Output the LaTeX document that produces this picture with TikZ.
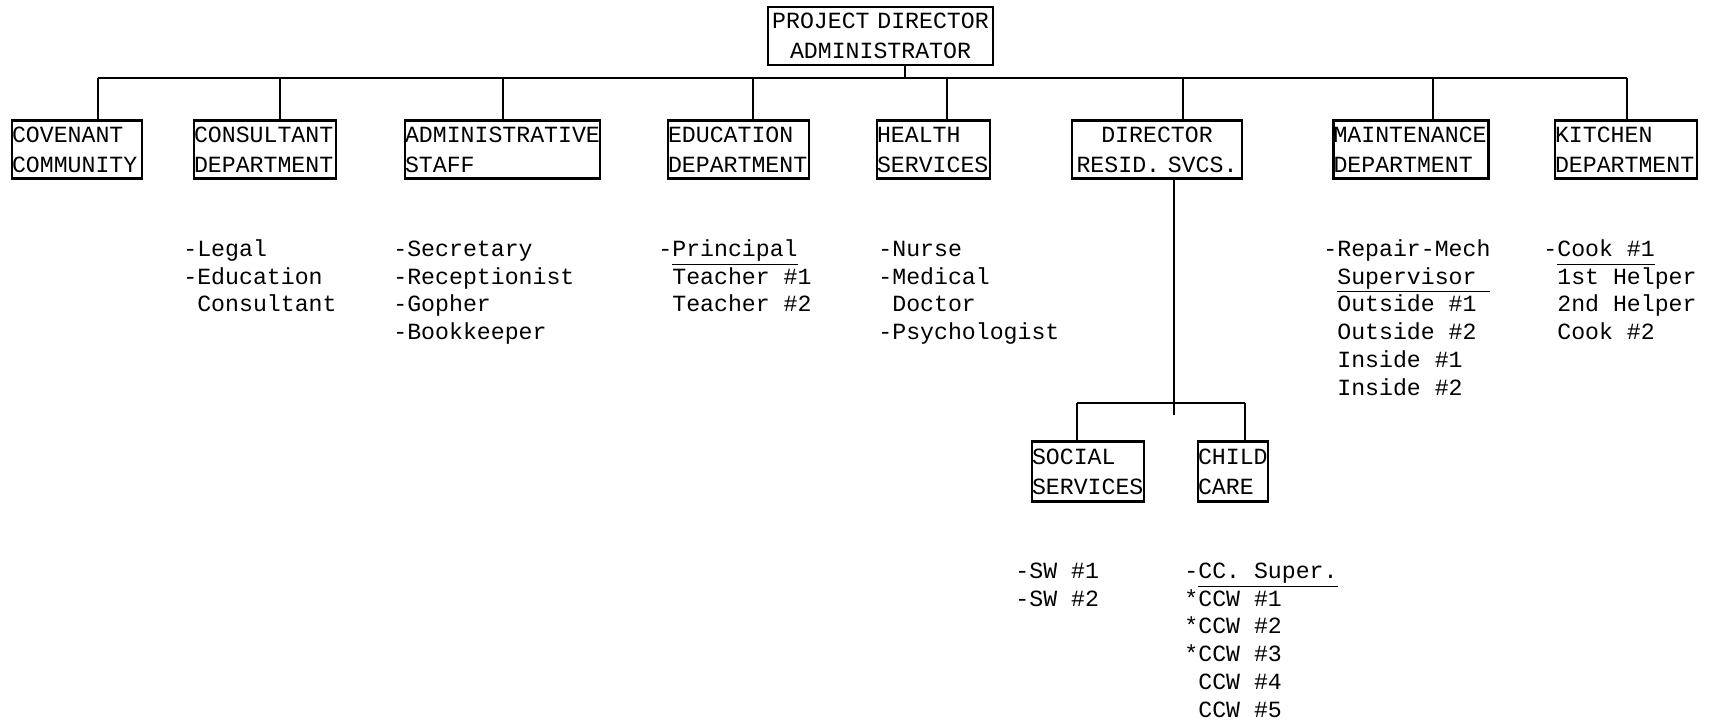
\documentclass[tikz,border=0pt]{standalone}
\usepackage{fontspec}
\setmainfont{Liberation Mono}
\newcommand\ul[1]{\underline{\vphantom{p}#1}}
\tikzset{
  unit/.style={draw, line width=1.1pt, inner sep=0pt, align=left, minimum height=29pt,
    font=\fontsize{11.6}{15}\selectfont},
  staff/.style={anchor=north west, inner sep=0pt, align=left,
    font=\fontsize{11.6}{13.9}\selectfont},
  link/.style={line width=1.1pt}
}
\begin{document}
\begin{tikzpicture}[x=0.5pt,y=-0.5pt]
  \useasboundingbox (0,0) rectangle (1711,724);
  % top of the chart
  \node[unit, text width=112.5pt, align=center] (head) at (880.5,36) {PROJECT DIRECTOR\\ADMINISTRATOR};
  % departments
  \node[unit, text width=65pt] (cov) at (77,149.5) {COVENANT\\COMMUNITY};
  \node[unit, text width=71pt] (cons) at (265,149.5) {CONSULTANT\\DEPARTMENT};
  \node[unit, text width=97.5pt] (adm) at (502.5,149.5) {ADMINISTRATIVE\\STAFF};
  \node[unit, text width=70.5pt] (edu) at (738.5,149.5) {EDUCATION\\DEPARTMENT};
  \node[unit, text width=56.5pt] (hea) at (933.5,149.5) {HEALTH\\SERVICES};
  \node[unit, text width=85pt, align=center] (dir) at (1157,149.5) {DIRECTOR\\RESID. SVCS.};
  \node[unit, text width=77.5pt] (mnt) at (1411,149.5) {MAINTENANCE\\DEPARTMENT};
  \node[unit, text width=71pt] (kit) at (1626,149.5) {KITCHEN\\DEPARTMENT};
  \node[unit, text width=56pt, minimum height=30pt] (soc) at (1088,471.5) {SOCIAL\\SERVICES};
  \node[unit, text width=35pt, minimum height=30pt] (cc) at (1233,471.5) {CHILD\\CARE};
  % bus line
  \coordinate (b-head) at (905,78);
  \foreach \n/\x in {cov/98, cons/280, adm/503, edu/753, hea/947, dir/1183, mnt/1433, kit/1627}
    \coordinate (b-\n) at (\x,78);
  \draw[link] (b-cov) -- (b-kit);
  \draw[link] (b-head) -- (b-head |- head.south);
  \foreach \n in {cov, cons, adm, edu, hea, dir, mnt, kit}
    \draw[link] (b-\n) -- (b-\n |- \n.north);
  % residential services
  \coordinate (down) at (1174,415);
  \coordinate (s-soc) at (1077,403);
  \coordinate (s-cc) at (1245,403);
  \draw[link] (down |- dir.south) -- (down);
  \draw[link] (s-soc) -- (s-cc);
  \draw[link] (s-soc) -- (s-soc |- soc.north);
  \draw[link] (s-cc) -- (s-cc |- cc.north);
  % staff lists
  \node[staff] (legal) at (183,236.5) {\strut-Legal\\-Education\\\phantom{-}Consultant};
  \node[staff] (secr) at (393,236.5) {\strut-Secretary\\-Receptionist\\-Gopher\\-Bookkeeper};
  \node[staff] (prin) at (658,236.5) {\strut-\ul{Principal}\\\phantom{-}Teacher \#1\\\phantom{-}Teacher \#2};
  \node[staff] (nurse) at (878,236.5) {\strut-Nurse\\-Medical\\\phantom{-}Doctor\\-Psychologist};
  \node[staff] (repair) at (1323,236.5) {\strut-Repair-Mech\\\phantom{-}\ul{Supervisor\ }\\\phantom{-}Outside \#1\\\phantom{-}Outside \#2\\\phantom{-}Inside \#1\\\phantom{-}Inside \#2};
  \node[staff] (cook) at (1543,236.5) {\strut-\ul{Cook \#1}\\\phantom{-}1st Helper\\\phantom{-}2nd Helper\\\phantom{-}Cook \#2};
  \node[staff] (sw) at (1015,558.5) {\strut-SW \#1\\-SW \#2};
  \node[staff] (ccw) at (1184,558.5) {\strut-\ul{CC. Super.}\\*CCW \#1\\*CCW \#2\\*CCW \#3\\\phantom{*}CCW \#4\\\phantom{*}CCW \#5};
\end{tikzpicture}
\end{document}
